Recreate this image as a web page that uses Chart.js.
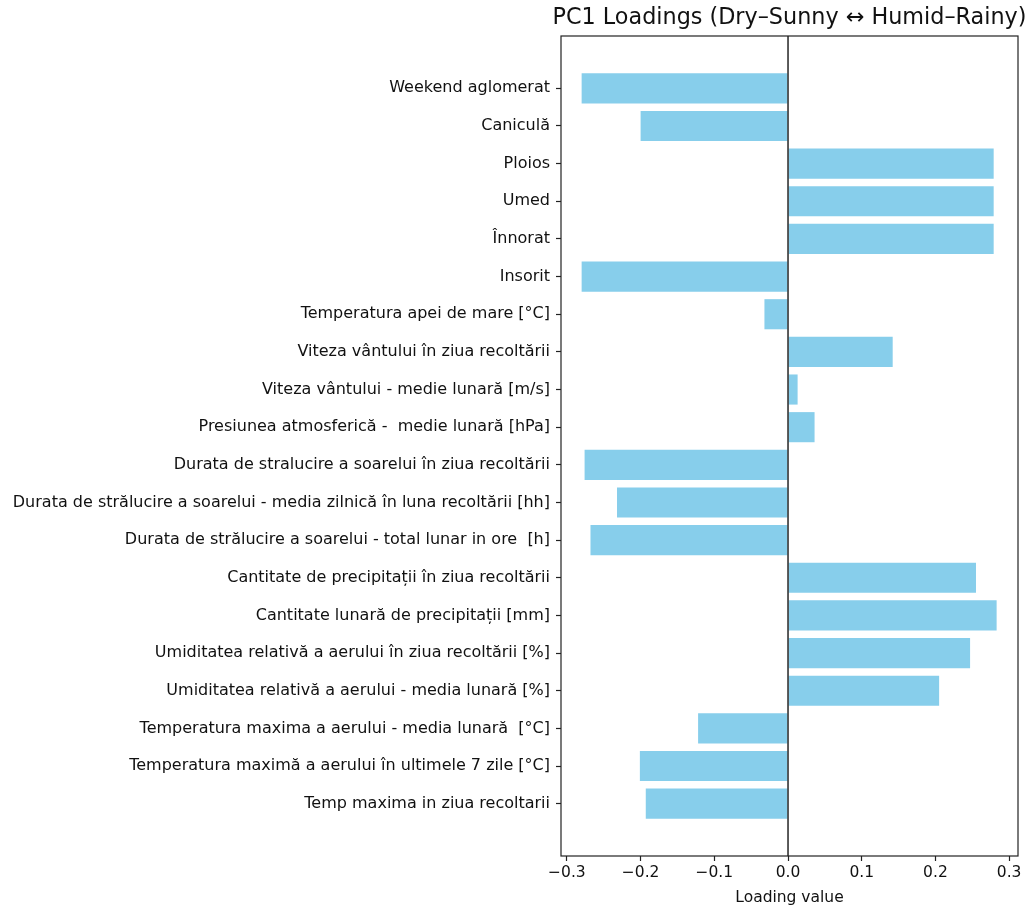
<!DOCTYPE html>
<html>
<head>
<meta charset="utf-8">
<script src="https://cdn.jsdelivr.net/npm/chart.js@4"></script>
<style>
  html, body { margin: 0; padding: 0; background: #fff; }
  #wrap { width: 1031px; height: 907px; }
</style>
</head>
<body>
<div id="wrap"><canvas id="c" width="1031" height="907"></canvas></div>
<script>
// Variables, listed top to bottom
const variables = [
  "Weekend aglomerat",
  "Caniculă",
  "Ploios",
  "Umed",
  "Înnorat",
  "Insorit",
  "Temperatura apei de mare [°C]",
  "Viteza vântului în ziua recoltării",
  "Viteza vântului - medie lunară [m/s]",
  "Presiunea atmosferică -  medie lunară [hPa]",
  "Durata de stralucire a soarelui în ziua recoltării",
  "Durata de strălucire a soarelui - media zilnică în luna recoltării [hh]",
  "Durata de strălucire a soarelui - total lunar in ore  [h]",
  "Cantitate de precipitații în ziua recoltării",
  "Cantitate lunară de precipitații [mm]",
  "Umiditatea relativă a aerului în ziua recoltării [%]",
  "Umiditatea relativă a aerului - media lunară [%]",
  "Temperatura maxima a aerului - media lunară  [°C]",
  "Temperatura maximă a aerului în ultimele 7 zile [°C]",
  "Temp maxima in ziua recoltarii"
];

// PC1 loading of each variable (same order)
const pc1Loadings = [
  -0.280, -0.200, 0.279, 0.279, 0.279, -0.280, -0.032, 0.142, 0.013, 0.036,
  -0.276, -0.232, -0.268, 0.255, 0.283, 0.247, 0.205, -0.122, -0.201, -0.193
];

const xTickValues = [-0.3, -0.2, -0.1, 0.0, 0.1, 0.2, 0.3];

const chartTitle = "PC1 Loadings (Dry–Sunny ↔ Humid–Rainy)";
const xAxisTitle = "Loading value";

const FONT = "'DejaVu Sans', sans-serif";

const points = pc1Loadings.map((v, i) => ({ x: v, y: i }));

// Frame, zero line and title drawn on top of the bars
const decorations = {
  id: 'decorations',
  afterDatasetsDraw(chart) {
    const { ctx, chartArea: a, scales } = chart;
    ctx.save();
    const x0 = scales.x.getPixelForValue(0);
    ctx.strokeStyle = '#333';
    ctx.lineWidth = 1.6;
    ctx.beginPath();
    ctx.moveTo(x0, a.top);
    ctx.lineTo(x0, a.bottom);
    ctx.stroke();

    ctx.strokeStyle = '#222';
    ctx.lineWidth = 1.2;
    ctx.strokeRect(a.left, a.top, a.right - a.left, a.bottom - a.top);

    ctx.fillStyle = '#111';
    ctx.font = "22.3px " + FONT;
    ctx.textAlign = 'center';
    ctx.textBaseline = 'middle';
    ctx.fillText(chartTitle, (a.left + a.right) / 2, 18);
    ctx.restore();
  }
};

new Chart(document.getElementById('c'), {
  type: 'bar',
  data: {
    datasets: [{
      data: points,
      backgroundColor: '#87CEEB',
      borderWidth: 0,
      barPercentage: 0.8,
      categoryPercentage: 1.0
    }]
  },
  options: {
    indexAxis: 'y',
    responsive: false,
    animation: false,
    layout: { padding: { top: 36, right: 13, left: 0, bottom: 0 } },
    plugins: {
      legend: { display: false },
      tooltip: { enabled: false },
      title: { display: false }
    },
    scales: {
      x: {
        type: 'linear',
        min: -0.308,
        max: 0.312,
        afterBuildTicks(scale) {
          scale.ticks = xTickValues.map(v => ({ value: v }));
        },
        afterFit(scale) { scale.height = 51; },
        ticks: {
          color: '#111',
          font: { family: FONT, size: 15.5 },
          padding: 3,
          maxRotation: 0,
          callback: (v) => (v < -1e-9 ? '−' : '') + Math.abs(v).toFixed(1)
        },
        grid: {
          drawOnChartArea: false,
          drawTicks: true,
          tickLength: 5,
          tickColor: '#222',
          tickWidth: 1.2
        },
        border: { display: false },
        title: {
          display: true,
          text: xAxisTitle,
          color: '#111',
          font: { family: FONT, size: 15.5 },
          padding: { top: 0, bottom: 0 }
        }
      },
      y: {
        type: 'linear',
        reverse: true,
        offset: false,
        min: -1.39,
        max: 20.39,
        afterBuildTicks(scale) {
          scale.ticks = variables.map((_, i) => ({ value: i }));
        },
        afterFit(scale) { scale.width = 561; },
        ticks: {
          color: '#111',
          font: { family: FONT, size: 16 },
          padding: 6,
          autoSkip: false,
          callback: (v) => variables[v]
        },
        grid: {
          offset: false,
          drawOnChartArea: false,
          drawTicks: true,
          tickLength: 5,
          tickColor: '#222',
          tickWidth: 1.2
        },
        border: { display: false }
      }
    }
  },
  plugins: [decorations]
});
</script>
</body>
</html>
